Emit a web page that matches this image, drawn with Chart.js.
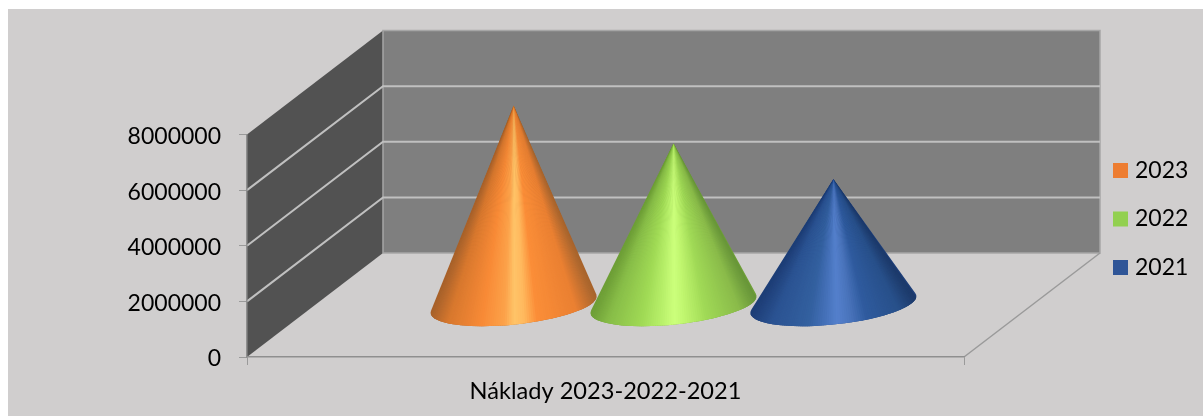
<!DOCTYPE html>
<html>
<head>
<meta charset="utf-8">
<title>Náklady 2023-2022-2021</title>
<script src="https://cdn.jsdelivr.net/npm/chart.js@4"></script>
<style>
  html, body { margin: 0; padding: 0; background: #fff; }
  canvas { display: block; }
</style>
</head>
<body>
<canvas id="chart" width="1203" height="416"></canvas>
<script>
const categories = ['Náklady 2023-2022-2021'];
const years = ['2023', '2022', '2021'];
const values2023 = [7170000];
const values2022 = [5820000];
const values2021 = [4530000];
const yTickMax = 8000000;
const yTickStep = 2000000;

const legendColors = ['#ED7D31', '#92D050', '#2F5597'];

// shading across each cone, left edge to right edge
const coneShades = [
  [[0, '#a9632c'], [0.1, '#d8782e'], [0.3, '#f88a36'], [0.44, '#fca24a'], [0.5, '#ffc468'], [0.56, '#ffb95e'], [0.64, '#fb8e38'], [0.88, '#ea8032'], [1, '#a8662f']],
  [[0, '#6f9f38'], [0.1, '#88bd48'], [0.3, '#a0da55'], [0.42, '#b8f06a'], [0.5, '#ccff7c'], [0.57, '#bff56e'], [0.7, '#a0d956'], [0.9, '#8abb4a'], [1, '#68953a']],
  [[0, '#1f3f78'], [0.12, '#2b5392'], [0.34, '#33609f'], [0.44, '#4470b8'], [0.52, '#5480cc'], [0.6, '#4a74bc'], [0.7, '#2f5b9e'], [0.9, '#28508a'], [1, '#1d3a6a']]
];

const depthX = 136;
const depthY = -104;
const textFont = { family: 'Lato', size: 23 };

function hexToRgb(hex) {
  const n = parseInt(hex.slice(1), 16);
  return [(n >> 16) & 255, (n >> 8) & 255, n & 255];
}

function shadeAt(stops, u) {
  for (let i = 1; i < stops.length; i++) {
    if (u <= stops[i][0]) {
      const a = stops[i - 1], b = stops[i];
      const f = (u - a[0]) / (b[0] - a[0]);
      const ca = hexToRgb(a[1]), cb = hexToRgb(b[1]);
      return `rgb(${ca.map((c, k) => Math.round(c + (cb[k] - c) * f)).join(',')})`;
    }
  }
  return stops[stops.length - 1][1];
}

// bar controller that paints each bar as a cone standing half way into the box
class ConeController extends Chart.BarController {
  draw() {
    const ctx = this.chart.ctx;
    const stops = coneShades[this.index];
    this.getMeta().data.forEach(bar => {
      const cx = bar.x + depthX / 2;
      const cy = bar.base + depthY / 2;
      const apexX = bar.x + depthX / 2;
      const apexY = bar.y + depthY / 2;
      const a = bar.width / 2;
      const b = 20;
      const rot = -6 * Math.PI / 180;
      const cos = Math.cos(rot), sin = Math.sin(rot);

      // tangents from the apex to the tilted base
      const dx = apexX - cx, dy = apexY - cy;
      const px = (dx * cos + dy * sin) / a;
      const py = (-dx * sin + dy * cos) / b;
      const phi = Math.atan2(py, px);
      const spread = Math.acos(1 / Math.hypot(px, py));
      const start = phi + spread;
      const end = phi - spread + Math.PI * 2;

      const pointAt = t => {
        const ex = a * Math.cos(t), ey = b * Math.sin(t);
        return [cx + ex * cos - ey * sin, cy + ex * sin + ey * cos];
      };

      ctx.save();
      ctx.beginPath();
      ctx.moveTo(apexX, apexY);
      ctx.ellipse(cx, cy, a, b, rot, start, end, false);
      ctx.closePath();
      ctx.fillStyle = shadeAt(stops, 0);
      ctx.fill();
      ctx.clip();

      const slices = 120;
      for (let i = 0; i < slices; i++) {
        const p = pointAt(start + (end - start) * i / slices);
        const q = pointAt(start + (end - start) * (i + 1.6) / slices);
        // silhouette runs right to left along the front of the base
        const u = (p[0] + q[0]) / 2;
        ctx.beginPath();
        ctx.moveTo(apexX, apexY);
        ctx.lineTo(p[0], p[1] + 3);
        ctx.lineTo(q[0], q[1] + 3);
        ctx.closePath();
        ctx.fillStyle = shadeAt(stops, Math.min(1, Math.max(0, (u - (cx - a)) / (2 * a))));
        ctx.fill();
      }
      ctx.restore();
    });
  }
}
ConeController.id = 'cone';
ConeController.defaults = Chart.BarController.defaults;
ConeController.overrides = Chart.BarController.overrides;
Chart.register(ConeController);

const box3d = {
  id: 'box3d',
  beforeDraw(chart) {
    const ctx = chart.ctx;
    const y = chart.scales.y;
    const x = chart.scales.x;
    const left = x.left, right = x.right;
    const top = y.getPixelForValue(yTickMax), bottom = y.getPixelForValue(0);

    ctx.save();
    ctx.fillStyle = '#D0CECE';
    ctx.fillRect(8, 9, chart.width - 8, chart.height - 9);

    // side wall
    ctx.fillStyle = '#525252';
    ctx.beginPath();
    ctx.moveTo(left, bottom);
    ctx.lineTo(left, top);
    ctx.lineTo(left + depthX, top + depthY);
    ctx.lineTo(left + depthX, bottom + depthY);
    ctx.closePath();
    ctx.fill();

    // back wall
    ctx.fillStyle = '#7F7F7F';
    ctx.fillRect(left + depthX, top + depthY, right - left, bottom - top);
    ctx.strokeStyle = '#a6a6a6';
    ctx.lineWidth = 1.5;
    ctx.strokeRect(left + depthX, top + depthY, right - left, bottom - top);

    // grid lines run along the side wall and across the back wall
    ctx.strokeStyle = '#c0c0c0';
    ctx.lineWidth = 2;
    y.ticks.forEach(tick => {
      if (tick.value === 0 || tick.value === yTickMax) return;
      const py = y.getPixelForValue(tick.value);
      ctx.beginPath();
      ctx.moveTo(left, py);
      ctx.lineTo(left + depthX, py + depthY);
      ctx.lineTo(right + depthX, py + depthY);
      ctx.stroke();
    });

    // floor edges
    ctx.strokeStyle = '#9a9a9a';
    ctx.lineWidth = 1.5;
    ctx.beginPath();
    ctx.moveTo(right, bottom);
    ctx.lineTo(right + depthX, bottom + depthY);
    ctx.stroke();
    ctx.restore();
  },
  afterLayout(chart) {
    // legend sits beside the back wall
    const legend = chart.legend;
    const w = legend.width, h = legend.height;
    legend.left = 1092;
    legend.top = 133.5;
    legend.right = legend.left + w;
    legend.bottom = legend.top + h;
    legend.adjustHitBoxes();
  }
};

const valueSeries = [values2023, values2022, values2021];

new Chart(document.getElementById('chart'), {
  type: 'cone',
  data: {
    labels: categories,
    datasets: years.map((year, i) => ({
      label: year,
      data: valueSeries[i],
      backgroundColor: legendColors[i],
      categoryPercentage: 0.669,
      barPercentage: 1.044,
      clip: false
    }))
  },
  options: {
    responsive: false,
    animation: false,
    layout: { padding: { left: 0, top: 134.5, right: 239, bottom: 0 } },
    plugins: {
      title: { display: false },
      tooltip: { enabled: false },
      legend: {
        position: 'chartArea',
        align: 'start',
        labels: {
          color: '#000',
          font: textFont,
          usePointStyle: true,
          pointStyle: 'rect',
          boxWidth: 6,
          boxHeight: 15,
          padding: 25.5
        }
      }
    },
    scales: {
      x: {
        type: 'category',
        offset: true,
        afterFit: scale => { scale.height = 59; },
        border: { color: '#8f8f8f', width: 1.5 },
        grid: { drawOnChartArea: false, color: '#9a9a9a', tickLength: 8, offset: true },
        ticks: { color: '#000', font: { family: 'Lato', size: 23.6 }, padding: 12.5, maxRotation: 0 }
      },
      y: {
        type: 'linear',
        min: 0,
        max: yTickMax,
        afterFit: scale => { scale.width = 247; },
        border: { color: '#8f8f8f', width: 1.5 },
        grid: { drawOnChartArea: false, color: '#9a9a9a', tickLength: 8 },
        ticks: { color: '#000', font: textFont, padding: 18, labelOffset: 2, stepSize: yTickStep, callback: value => String(value) }
      }
    }
  },
  plugins: [box3d]
});
</script>
</body>
</html>
